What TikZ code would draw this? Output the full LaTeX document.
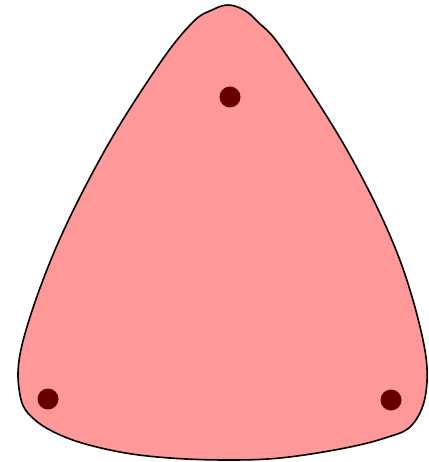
\documentclass[tikz,border=0pt]{standalone}
\definecolor{shapefill}{HTML}{FF9999}
\definecolor{dotred}{HTML}{660000}
\tikzset{
  pin/.style={circle, fill=dotred, draw=none, minimum size=21pt, inner sep=0pt},
  outline/.style={draw=black, line width=1.6pt, fill=shapefill}
}
\begin{document}
\begin{tikzpicture}[x=1pt,y=-1pt]
\useasboundingbox (0,0) rectangle (428,462);
\draw[outline] plot[smooth cycle, tension=0.6] coordinates {
 (228,5) (244,10) (258,22) (283,50) (347,150) (396,250)
 (423,340) (426,392) (412,425) (385,438) (340,449)
 (280,458) (227,460) (170,458) (120,452)
 (70,439) (35,420) (20,395) (22,345) (55,250)
 (105,150) (160,63) (193,22) (212,10)
};
\node[pin] (top) at (230,97) {};
\node[pin] (left) at (48,399) {};
\node[pin] (right) at (391,400) {};
\end{tikzpicture}
\end{document}
